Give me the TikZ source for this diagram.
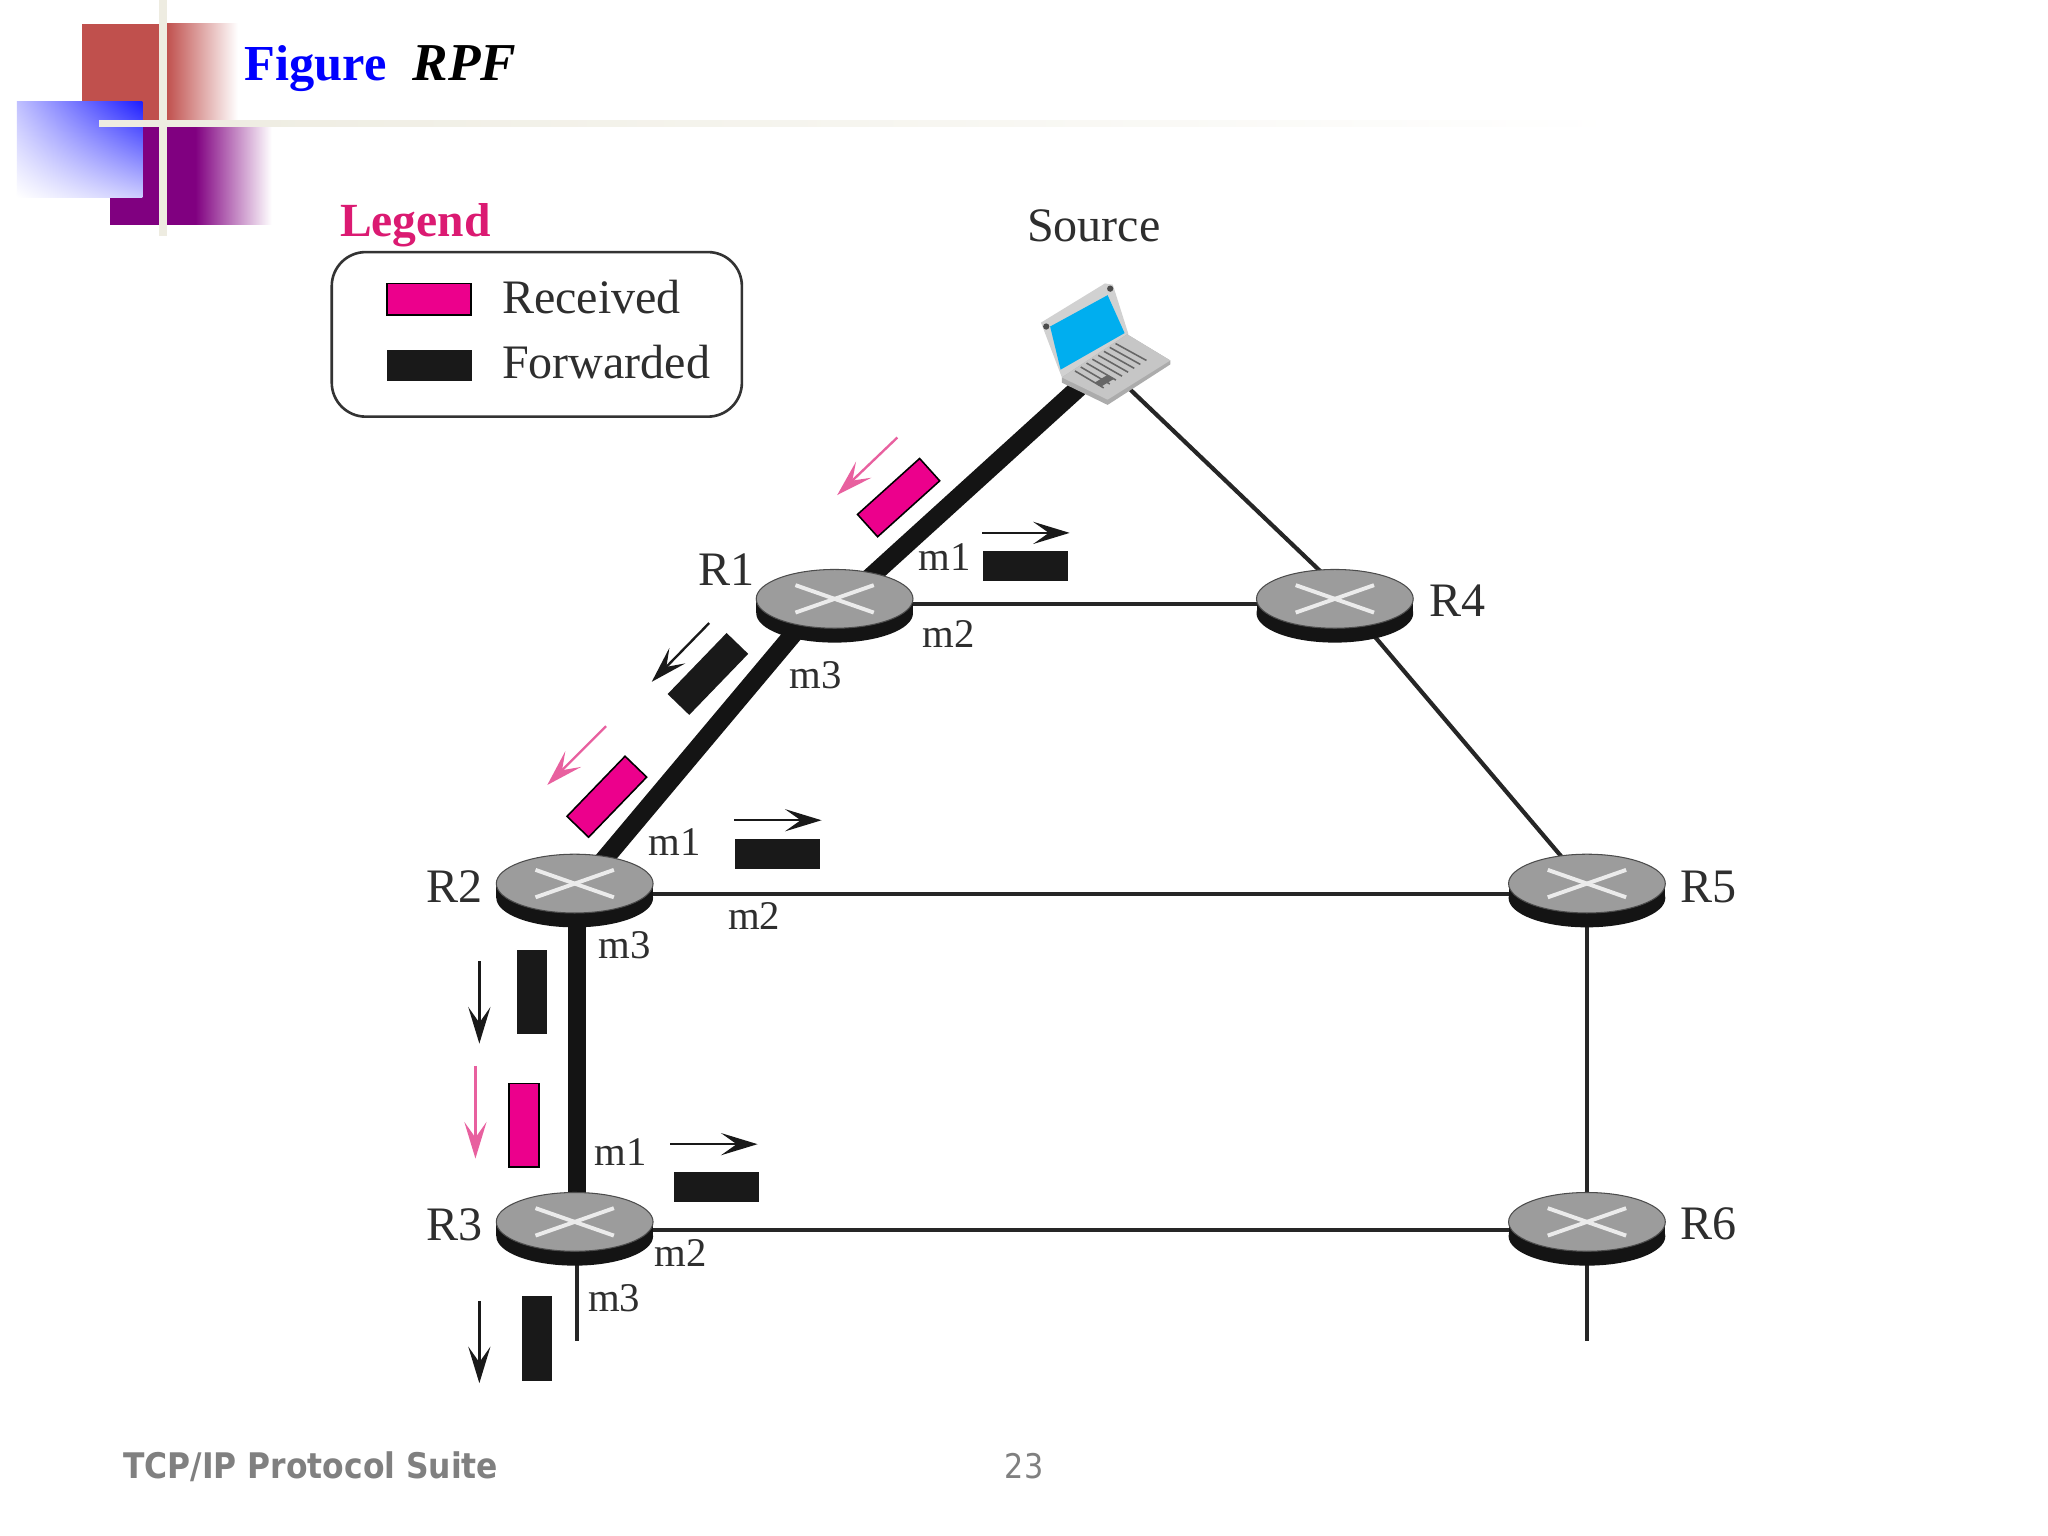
\documentclass[tikz,border=0pt]{standalone}
\usepackage{fontspec}
\setmainfont{Liberation Serif}
\newfontfamily\footfont[FakeStretch=0.89]{DejaVu Sans}
\usetikzlibrary{arrows.meta,shapes.geometric,backgrounds,shadings,calc}
\definecolor{pinkfill}{HTML}{EC008C}
\definecolor{pinkarrow}{HTML}{E8609F}
\definecolor{legendpink}{HTML}{DB1A72}
\definecolor{inktext}{HTML}{2E2E2E}
\definecolor{routertop}{HTML}{9C9C9C}
\definecolor{cream}{HTML}{EEECE1}
\definecolor{decored}{HTML}{C0504D}
\definecolor{decopurple}{HTML}{800080}
\definecolor{footgray}{HTML}{808080}
\definecolor{blueA}{HTML}{C0C0FF}
\definecolor{blueB}{HTML}{1F1FFF}
\definecolor{blueC}{HTML}{CCCCFF}
\definecolor{screenblue}{HTML}{00AEEF}
\tikzset{
  routertopstyle/.style={ellipse,fill=routertop,draw=black!70,line width=0.4pt,minimum width=60pt,minimum height=22.5pt,inner sep=0pt},
  thickedge/.style={line width=7pt,draw=black!92},
  thinedge/.style={line width=1.6pt,draw=black!85},
  lbl/.style={anchor=base west,inner sep=0pt,text=inktext,font=\fontsize{18.4}{20}\selectfont},
  mlbl/.style={anchor=base west,inner sep=0pt,text=inktext,font=\fontsize{15.6}{17}\selectfont},
  blackpkt/.style={fill=black!90,draw=none,minimum width=32.5pt,minimum height=11.5pt,inner sep=0pt},
  pinkpkt/.style={fill=pinkfill,draw=black,line width=0.6pt,minimum width=32pt,minimum height=11.5pt,inner sep=0pt},
  blackarrow/.style={draw=black!90,line width=0.9pt,-{Stealth[length=14pt,width=8.5pt,inset=6pt]}},
  pinkarr/.style={draw=pinkarrow,line width=0.9pt,-{Stealth[length=14pt,width=8.5pt,inset=6pt]}},
  xline/.style={draw=white!92!black,line width=1.5pt}
}
\newcommand{\routerat}[3]{%
  \fill[black!92] (#2-60,#3+0.5) rectangle (#2+60,#3+11.5);
  \fill[black!92] (#2,#3+11.5) ellipse [x radius=30pt,y radius=11.25pt];
  \node[routertopstyle] (#1) at (#2,#3+0.5) {};
  \draw[xline] (#2-30,#3-10) -- (#2+30,#3+11);
  \draw[xline] (#2-30,#3+11) -- (#2+30,#3-10);
}
\begin{document}
\begin{tikzpicture}[x=0.5pt,y=-0.5pt]
\begin{scope}[on background layer]
\path[use as bounding box,fill=white] (0,0) rectangle (1568,1176);
\end{scope}
% decoration
\fill[decored] (63,18) rectangle (128,92);
\shade[left color=decored,right color=white,draw=none] (127.5,18) rectangle (182,92);
\fill[decopurple] (84,96) rectangle (150,172);
\shade[left color=decopurple,right color=white,draw=none] (149.5,96) rectangle (208,172);
\shade[upper left=blueA,upper right=blueB,lower left=white,lower right=blueC] (13,78) rectangle (109,151);
\fill[cream] (76,92) rectangle (128,97);
\shade[left color=cream,right color=white,draw=none] (127,92) rectangle (1240,97);
\fill[cream] (122,0) rectangle (128,181);
% title
\node[anchor=base west,inner sep=0pt,font=\fontsize{19.3}{22}\selectfont\bfseries] (title) at (187,62)
  {\textcolor{blue}{Figure}\hspace{10pt}{\fontsize{20.4}{22}\selectfont\textit{RPF}}};
% legend
\node[anchor=base west,inner sep=0pt,text=legendpink,font=\fontsize{18.2}{20}\selectfont\bfseries] (legendtitle) at (260,181) {Legend};
\node[draw=black!80,line width=1pt,rounded corners=13pt,minimum width=157pt,minimum height=63pt,inner sep=0pt] (legendbox) at (411,256) {};
\node[pinkpkt,minimum width=32pt,minimum height=12pt] (swatchr) at (328.5,229) {};
\node[blackpkt,minimum width=32.5pt,minimum height=12pt] (swatchf) at (328.5,280) {};
\node[lbl] (txtr) at (384,240) {Received};
\node[lbl] (txtf) at (384,290) {Forwarded};
% routers
\routerat{r1}{639}{458}
\routerat{r4}{1022}{458}
\routerat{r2}{440}{676}
\routerat{r5}{1215}{676}
\routerat{r3}{440}{935}
\routerat{r6}{1215}{935}
% laptop
\coordinate (laptop) at (850,275);
\fill[black!18] (797,247) -- (846,217) -- (852,218) -- (864,256) -- (813,289) -- cycle;
\fill[screenblue] (804,250) -- (848,226) -- (861,255) -- (812,283) -- cycle;
\fill[gray!60!black] (850,221) circle (1.2pt);
\fill[gray!60!black] (801,250) circle (1.2pt);
\fill[gray!65] (813,289) -- (813,293) -- (848,310) -- (896,279) -- (896,276) -- (863,256) -- cycle;
\fill[gray!45] (813,289) -- (848,306) -- (896,276) -- (863,256) -- cycle;
\foreach \t in {0.0,0.12,...,0.85}{
  \draw[gray!80!black,line width=0.6pt] ($(823,284)!\t!(860,259)$) -- ($(845,297)!\t!(884,272)$);
}
\fill[gray!80!black] (838,293) -- (848,287) -- (853,290) -- (843,296) -- cycle;
% edges
\begin{scope}[on background layer]
\draw[thickedge] (laptop) -- ([shift={(9,0)}]r1.center);
\draw[thickedge] ([shift={(-9,0)}]r1.center) -- ([shift={(7,0)}]r2.center);
\draw[thickedge] ([shift={(2,0)}]r2.center) -- ([shift={(2,0)}]r3.center);
\draw[thinedge] ([shift={(-9,0)}]laptop) -- ([shift={(11,0)}]r4.center);
\draw[thinedge] ([shift={(0,4)}]r1.center) -- ([shift={(0,4)}]r4.center);
\draw[thinedge] ([shift={(6,0)}]r4.center) -- ([shift={(-2,0)}]r5.center);
\draw[thinedge] ([shift={(0,8)}]r2.center) -- ([shift={(0,8)}]r5.center);
\draw[thinedge] (r5.center) -- (r6.center);
\draw[thinedge] ([shift={(0,6)}]r3.center) -- ([shift={(0,6)}]r6.center);
\coordinate (stubA) at (442,1027);
\coordinate (stubB) at (1215,1027);
\draw[thinedge] ([shift={(2,0)}]r3.center) -- (stubA);
\draw[thinedge] (r6.center) -- (stubB);
\end{scope}
% labels
\node[lbl] (srclbl) at (786,185) {Source};
\node[lbl] (lr1) at (534,448.5) {R1};
\node[lbl] (lr2) at (326,691) {R2};
\node[lbl] (lr3) at (326,950) {R3};
\node[lbl] (lr4) at (1094,472) {R4};
\node[lbl] (lr5) at (1286,691) {R5};
\node[lbl] (lr6) at (1286,949) {R6};
\node[mlbl] (a1) at (703,437) {m1};
\node[mlbl] (a2) at (706,496) {m2};
\node[mlbl] (a3) at (604,527) {m3};
\node[mlbl] (b1) at (496,655) {m1};
\node[mlbl] (b2) at (557,712) {m2};
\node[mlbl] (b3) at (458,734) {m3};
\node[mlbl] (c1) at (455,892) {m1};
\node[mlbl] (c2) at (501,970) {m2};
\node[mlbl] (c3) at (450,1004) {m3};
% packets
\node[pinkpkt,rotate=42] (p1) at (688,381) {};
\coordinate (p1a) at (687,335); \coordinate (p1b) at (641,379);
\draw[pinkarr] (p1a) -- (p1b);
\node[blackpkt,rotate=46] (p2) at (542,516) {};
\coordinate (p2a) at (543,477); \coordinate (p2b) at (499,522);
\draw[blackarrow] (p2a) -- (p2b);
\node[pinkpkt,rotate=46] (p3) at (464.6,610) {};
\coordinate (p3a) at (464,556); \coordinate (p3b) at (419,601);
\draw[pinkarr] (p3a) -- (p3b);
\node[blackpkt] (p4) at (785,433.5) {};
\coordinate (p4a) at (752,408); \coordinate (p4b) at (819,408);
\draw[blackarrow] (p4a) -- (p4b);
\node[blackpkt] (p5) at (595,653.5) {};
\coordinate (p5a) at (562,628); \coordinate (p5b) at (629,628);
\draw[blackarrow] (p5a) -- (p5b);
\node[blackpkt,rotate=90] (p6) at (407,759.5) {};
\coordinate (p6a) at (367,736); \coordinate (p6b) at (367,799);
\draw[blackarrow] (p6a) -- (p6b);
\node[pinkpkt,rotate=90] (p7) at (401,861.5) {};
\coordinate (p7a) at (364,816); \coordinate (p7b) at (364,887);
\draw[pinkarr] (p7a) -- (p7b);
\node[blackpkt] (p8) at (548.5,908.5) {};
\coordinate (p8a) at (513,876); \coordinate (p8b) at (580,876);
\draw[blackarrow] (p8a) -- (p8b);
\node[blackpkt,rotate=90] (p9) at (411.5,1024.5) {};
\coordinate (p9a) at (367,996); \coordinate (p9b) at (367,1059);
\draw[blackarrow] (p9a) -- (p9b);
% footer
\node[anchor=base west,inner sep=0pt,text=footgray,font=\footfont\fontsize{13.5}{16}\selectfont\bfseries] (foot) at (94,1132) {TCP/IP Protocol Suite};
\node[anchor=base,inner sep=0pt,text=footgray,font=\footfont\fontsize{13}{16}\selectfont] (page) at (784,1132) {23};
\end{tikzpicture}
\end{document}
